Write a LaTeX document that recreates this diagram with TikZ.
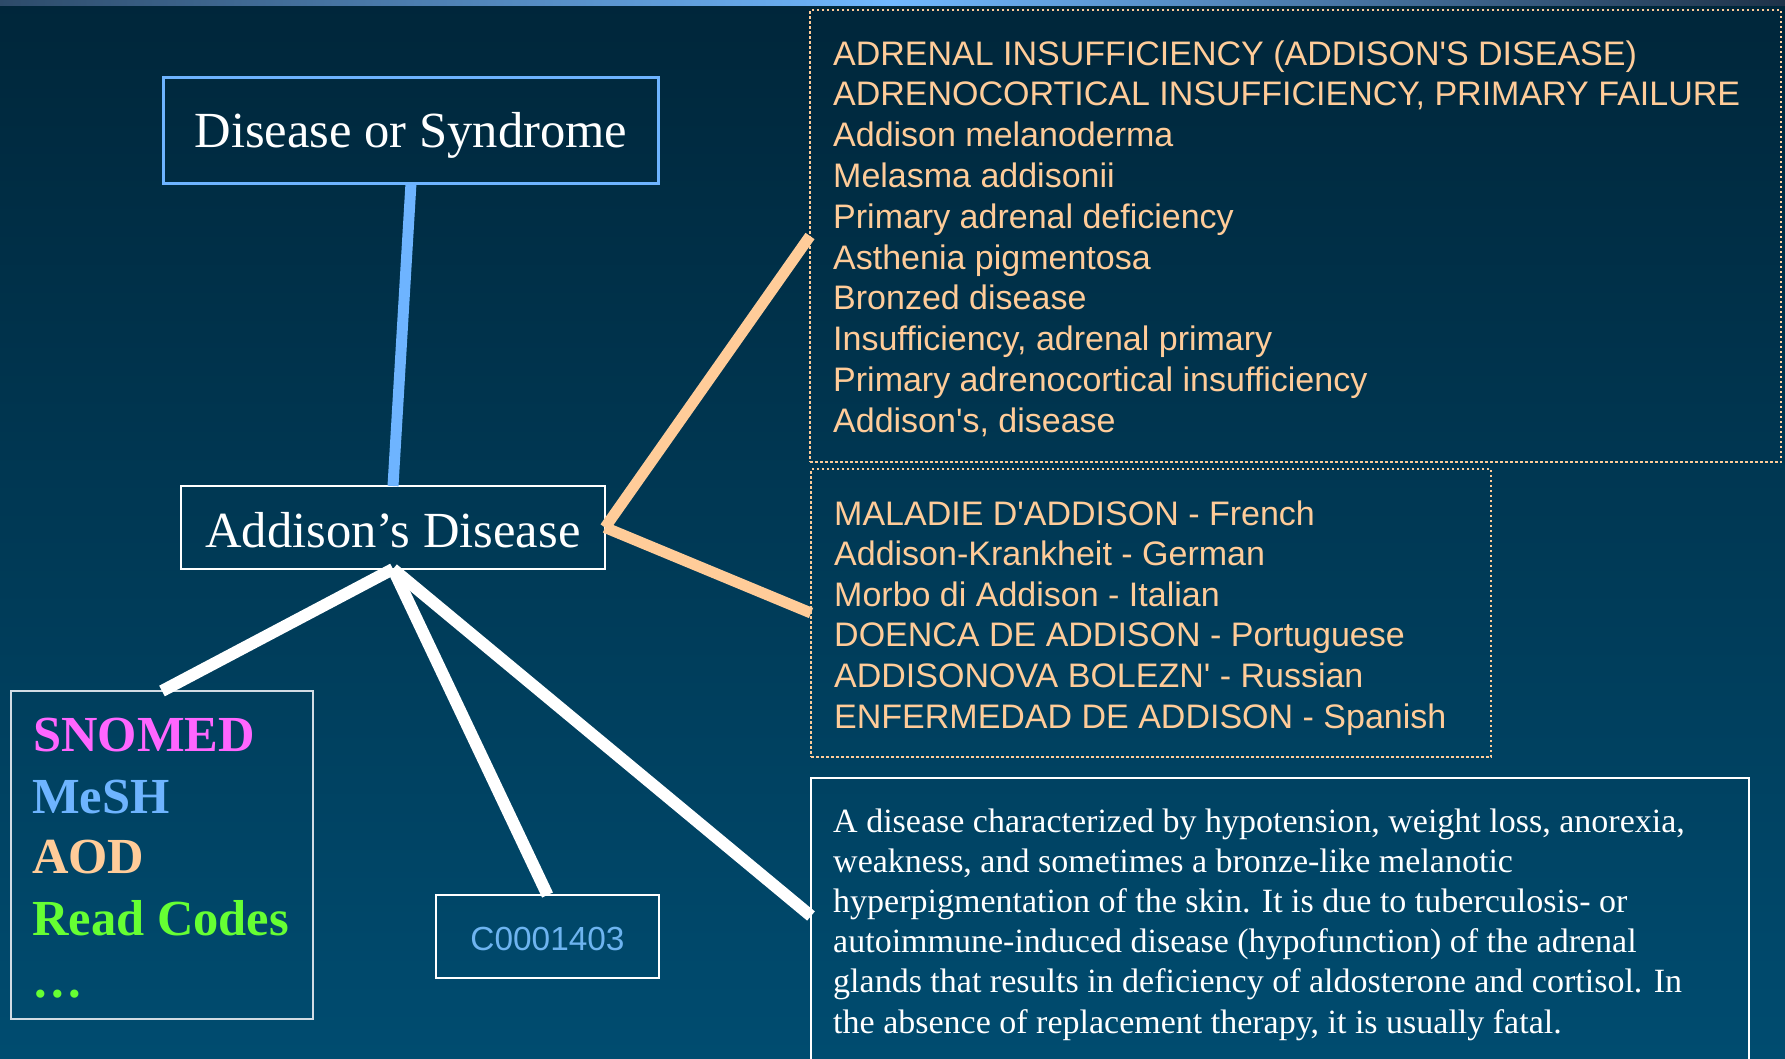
\documentclass[tikz,border=0pt]{standalone}
\usepackage{fontspec}
\setmainfont{Liberation Serif}
\newfontfamily\arialf[Ligatures=TeXOff]{Liberation Sans}
\definecolor{bgtop}{RGB}{0,38,58}
\definecolor{bgbot}{RGB}{0,76,112}
\definecolor{barL}{RGB}{45,75,105}
\definecolor{barM}{RGB}{112,184,255}
\definecolor{barR}{RGB}{30,50,72}
\definecolor{peach}{RGB}{255,204,153}
\definecolor{skyb}{RGB}{110,180,255}
\definecolor{codeblue}{RGB}{110,180,240}
\definecolor{magS}{RGB}{255,102,255}
\definecolor{greenR}{RGB}{102,255,51}
\definecolor{greyline}{RGB}{210,220,228}
\begin{document}
\begin{tikzpicture}[x=1pt,y=-1pt,
  emptybox/.style={rectangle, inner sep=0pt, outer sep=0pt},
  dotbox/.style={emptybox, draw=peach, line width=2.5pt, dash pattern=on 2.5pt off 2.5pt},
  thinbox/.style={emptybox, draw=white, line width=2pt},
  arialtxt/.style={font=\arialf\fontsize{34}{40}\selectfont, text=peach, anchor=base west, inner sep=0pt},
  bigserif/.style={font=\fontsize{50.6}{60}\selectfont, anchor=base, inner sep=0pt},
  boldlist/.style={font=\bfseries\fontsize{50.5}{60}\selectfont, anchor=base west, inner sep=0pt},
  desctxt/.style={font=\fontsize{34}{40}\selectfont, text=white, anchor=base west, inner sep=0pt},
  blueconn/.style={draw=skyb, line width=11pt},
  peachconn/.style={draw=peach, line width=11pt},
  whiteconn/.style={draw=white, line width=12pt}]
\path[use as bounding box] (0,0) rectangle (1785,1058);
\shade[top color=bgtop, bottom color=bgbot] (0,0) rectangle (1785,1058);
\shade[left color=barL, right color=barR, middle color=barM] (0,0) rectangle (1785,5);
\clip (0,0) rectangle (1785,1058);

% boxes
\node[emptybox, draw=skyb, line width=3pt, minimum width=495pt, minimum height=106pt] (dos) at (411,130) {};
\node[thinbox, minimum width=424pt, minimum height=83pt] (add) at (393,527.5) {};
\node[emptybox, draw=greyline, line width=2pt, minimum width=302pt, minimum height=328pt] (snomed) at (162,855) {};
\node[thinbox, minimum width=223pt, minimum height=83pt] (code) at (547.5,936.5) {};
\node[dotbox, minimum width=971pt, minimum height=452pt] (syn) at (1295.5,236) {};
\node[dotbox, minimum width=680pt, minimum height=288pt] (lang) at (1151,613) {};
\node[emptybox, draw=white, line width=1.5pt, minimum width=938pt, minimum height=292pt] (desc) at (1280,924) {};
\coordinate (descin) at (811,916);

% connectors
\draw[blueconn] (dos.south) -- (add.north);
\draw[peachconn] (add.east) -- (syn.west);
\draw[peachconn] (add.east) -- (lang.west);
\draw[whiteconn] (add.south) -- (snomed.north);
\draw[whiteconn] (add.south) -- (code.north);
\draw[whiteconn] (add.south) -- (descin);

% texts
\node[bigserif, text=white] (dost) at (411,147) {Disease or Syndrome};
\node[bigserif, text=white] (addt) at (393,547) {Addison’s Disease};
\node[font=\arialf\fontsize{33.4}{40}\selectfont, text=codeblue, anchor=base, inner sep=0pt] (codet) at (547.5,950) {C0001403};

\node[boldlist, text=magS] (l1) at (33,751) {SNOMED};
\node[boldlist, text=skyb] (l2) at (32,813) {MeSH};
\node[boldlist, text=peach] (l3) at (32,873) {AOD};
\node[boldlist, text=greenR] (l4) at (32,935) {Read Codes};
\node[boldlist, text=greenR] (l5) at (32,997) {…};

\foreach \t [count=\i] in {
  {ADRENAL INSUFFICIENCY (ADDISON'S DISEASE)},
  {ADRENOCORTICAL INSUFFICIENCY, PRIMARY FAILURE},
  {Addison melanoderma},
  {Melasma addisonii},
  {Primary adrenal deficiency},
  {Asthenia pigmentosa},
  {Bronzed disease},
  {Insufficiency, adrenal primary},
  {Primary adrenocortical insufficiency},
  {Addison's, disease}}
  \node[arialtxt] (syn\i) at (833,{65+40.8*(\i-1)}) {\t};

\foreach \t [count=\i] in {
  {MALADIE D'ADDISON - French},
  {Addison-Krankheit - German},
  {Morbo di Addison - Italian},
  {DOENCA DE ADDISON - Portuguese},
  {ADDISONOVA BOLEZN' - Russian},
  {ENFERMEDAD DE ADDISON - Spanish}}
  \node[arialtxt] (lang\i) at (834,{525+40.6*(\i-1)}) {\t};

\foreach \t [count=\i] in {
  {A disease characterized by hypotension, weight loss, anorexia,},
  {weakness, and sometimes a bronze-like melanotic},
  {hyperpigmentation of the skin. It is due to tuberculosis- or},
  {autoimmune-induced disease (hypofunction) of the adrenal},
  {glands that results in deficiency of aldosterone and cortisol. In},
  {the absence of replacement therapy, it is usually fatal.}}
  \node[desctxt] (desc\i) at (833,{832+40.2*(\i-1)}) {\t};
\end{tikzpicture}
\end{document}
